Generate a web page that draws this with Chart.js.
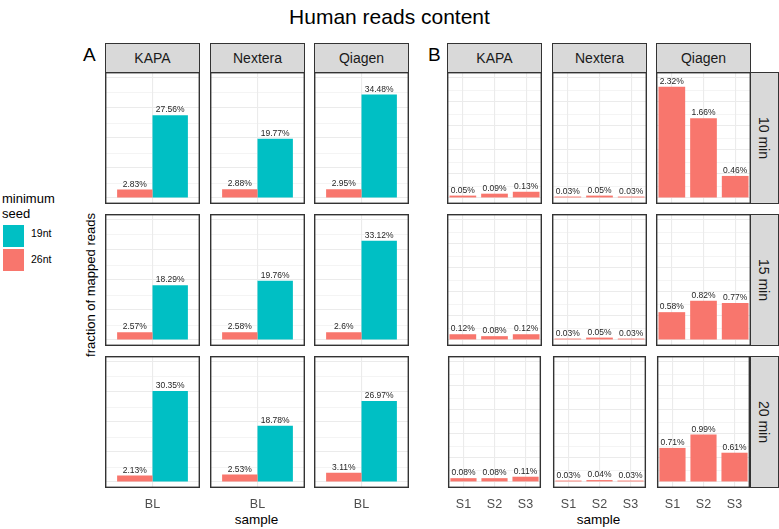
<!DOCTYPE html>
<html>
<head>
<meta charset="utf-8">
<script src="https://cdn.jsdelivr.net/npm/chart.js@4.4.1/dist/chart.umd.min.js"></script>
<style>
  body { margin: 0; background: #fff; font-family: "Liberation Sans", Arial, sans-serif; }
  #lienzo { position: relative; width: 779px; height: 529px; overflow: hidden; }
  .txt { position: absolute; white-space: nowrap; line-height: 1; color: #000; }
  .strip { position: absolute; box-sizing: border-box; background: #d9d9d9; border: 1px solid #333;
           display: flex; align-items: center; justify-content: center; font-size: 14px; color: #1a1a1a; }
  .rot { transform: rotate(90deg); white-space: nowrap; }
  canvas { position: absolute; }
</style>
</head>
<body>
<div id="lienzo"></div>
<script>
// ============================
// Datos
// ============================
const kits = ['KAPA', 'Nextera', 'Qiagen'];
const tiempos = ['10 min', '15 min', '20 min'];
const semillas = ['19nt', '26nt'];
const etiquetasBL = ['BL'];
const etiquetasMuestra = ['S1', 'S2', 'S3'];

// Panel A: filas = tiempo, columnas = kit
const bl26nt = [[2.83, 2.88, 2.95], [2.57, 2.58, 2.6], [2.13, 2.53, 3.11]];
const bl19nt = [[27.56, 19.77, 34.48], [18.29, 19.76, 33.12], [30.35, 18.78, 26.97]];

// Panel B: solo 26nt, filas = tiempo
const kapaMuestras = [[0.05, 0.09, 0.13], [0.12, 0.08, 0.12], [0.08, 0.08, 0.11]];
const nexteraMuestras = [[0.03, 0.05, 0.03], [0.03, 0.05, 0.03], [0.03, 0.04, 0.03]];
const qiagenMuestras = [[2.32, 1.66, 0.46], [0.58, 0.82, 0.77], [0.71, 0.99, 0.61]];
const muestrasB = [kapaMuestras, nexteraMuestras, qiagenMuestras];

// ============================
// Estilo y geometría
// ============================
const colores = { '19nt': '#00BFC4', '26nt': '#F8766D' };
const fuente = '"Liberation Sans", Arial, sans-serif';
const colA = [105, 210, 314];
const colB = [447, 552, 656];
const filaTop = [72, 214, 356];
const anchoPanel = 95, altoPanel = 132, altoEje = 26;

const lienzo = document.getElementById('lienzo');

function texto(str, left, top, size, extra) {
    const d = document.createElement('div');
    d.className = 'txt';
    d.textContent = str;
    d.style.left = left + 'px';
    d.style.top = top + 'px';
    d.style.fontSize = size + 'px';
    if (extra) Object.assign(d.style, extra);
    lienzo.appendChild(d);
    return d;
}

function caja(cls, left, top, w, h) {
    const d = document.createElement('div');
    d.className = cls;
    Object.assign(d.style, { left: left + 'px', top: top + 'px', width: w + 'px', height: h + 'px' });
    lienzo.appendChild(d);
    return d;
}

// Plugin: etiquetas encima de las barras
const etiquetasBarras = {
    id: 'etiquetasBarras',
    afterDatasetsDraw(chart) {
        const c = chart.ctx;
        c.save();
        c.font = '8.5px ' + fuente;
        c.fillStyle = '#262626';
        c.textAlign = 'center';
        c.textBaseline = 'bottom';
        chart.data.datasets.forEach((ds, i) => {
            chart.getDatasetMeta(i).data.forEach((bar, j) => {
                c.fillText(ds.data[j] + '%', bar.x, bar.y - 1);
            });
        });
        c.restore();
    }
};

// Plugin: marco del panel
const marcoPanel = {
    id: 'marcoPanel',
    afterDraw(chart) {
        const a = chart.chartArea;
        const c = chart.ctx;
        c.save();
        c.strokeStyle = '#333333';
        c.lineWidth = 1.4;
        c.strokeRect(a.left + 0.7, a.top + 0.7, a.right - a.left - 1.4, a.bottom - a.top - 1.4);
        c.restore();
    }
};

function crearPanel(left, top, labels, datasets, yMax, paso, abajo, pctCategoria) {
    const cv = document.createElement('canvas');
    const alto = altoPanel + (abajo ? altoEje : 0);
    cv.width = anchoPanel;
    cv.height = alto;
    cv.style.left = left + 'px';
    cv.style.top = top + 'px';
    cv.style.width = anchoPanel + 'px';
    cv.style.height = alto + 'px';
    lienzo.appendChild(cv);

    new Chart(cv, {
        type: 'bar',
        data: { labels: labels, datasets: datasets },
        options: {
            responsive: false,
            animation: false,
            devicePixelRatio: 1,
            layout: { padding: 0 },
            datasets: { bar: { categoryPercentage: pctCategoria, barPercentage: 1 } },
            plugins: { legend: { display: false }, tooltip: { enabled: false } },
            scales: {
                x: {
                    grid: { offset: false, color: '#ebebeb', lineWidth: 1.1, drawTicks: false },
                    border: { display: false },
                    ticks: {
                        display: abajo, color: '#4d4d4d', padding: 9, maxRotation: 0, autoSkip: false,
                        font: { family: fuente, size: 12.5 }
                    },
                    afterFit(s) { s.height = abajo ? altoEje : 0; }
                },
                y: {
                    min: -yMax * 0.05,
                    max: yMax * 1.05,
                    grid: {
                        drawTicks: false,
                        color: '#ebebeb',
                        lineWidth: ctx => (Math.round(ctx.tick.value / paso) % 2 === 0 ? 1.1 : 0.55)
                    },
                    border: { display: false },
                    ticks: { display: false },
                    afterBuildTicks(s) {
                        const t = [];
                        for (let k = 0; k * paso <= yMax + 1e-9; k++) t.push({ value: k * paso });
                        s.ticks = t;
                    },
                    afterFit(s) { s.width = 0; }
                }
            }
        },
        plugins: [etiquetasBarras, marcoPanel]
    });
}

// ============================
// Títulos y leyenda
// ============================
texto('Human reads content', 0, 6, 21, { width: '779px', textAlign: 'center' });
texto('A', 83, 45, 19);
texto('B', 428, 45, 19);

texto('minimum', 2, 192, 13);
texto('seed', 2, 207, 13);
caja('txt', 3, 225, 21, 22).style.background = colores['19nt'];
caja('txt', 3, 249, 21, 22).style.background = colores['26nt'];
texto('19nt', 31, 228, 10.5);
texto('26nt', 31, 253.5, 10.5);

texto('fraction of mapped reads', 90, 285, 13, { transform: 'translate(-50%, -50%) rotate(-90deg)' });
texto('sample', 256.5, 513, 13.5, { transform: 'translateX(-50%)' });
texto('sample', 598.5, 513, 13.5, { transform: 'translateX(-50%)' });

// ============================
// Tiras
// ============================
kits.forEach((k, i) => {
    caja('strip', colA[i], 43, anchoPanel, 30).textContent = k;
    caja('strip', colB[i], 43, anchoPanel, 30).textContent = k;
});
tiempos.forEach((t, r) => {
    const s = caja('strip', colB[2] + anchoPanel - 1, filaTop[r], 29, altoPanel);
    const span = document.createElement('span');
    span.className = 'rot';
    span.textContent = t;
    s.appendChild(span);
});

// ============================
// Paneles
// ============================
for (let r = 0; r < 3; r++) {
    const abajo = r === 2;
    for (let c = 0; c < 3; c++) {
        crearPanel(colA[c], filaTop[r], etiquetasBL, [
            { label: semillas[1], data: [bl26nt[r][c]], backgroundColor: colores['26nt'] },
            { label: semillas[0], data: [bl19nt[r][c]], backgroundColor: colores['19nt'] }
        ], 40, 5, abajo, 0.745);

        crearPanel(colB[c], filaTop[r], etiquetasMuestra, [
            { label: semillas[1], data: muestrasB[c][r], backgroundColor: colores['26nt'] }
        ], 2.5, 0.25, abajo, 0.843);
    }
}
</script>
</body>
</html>
